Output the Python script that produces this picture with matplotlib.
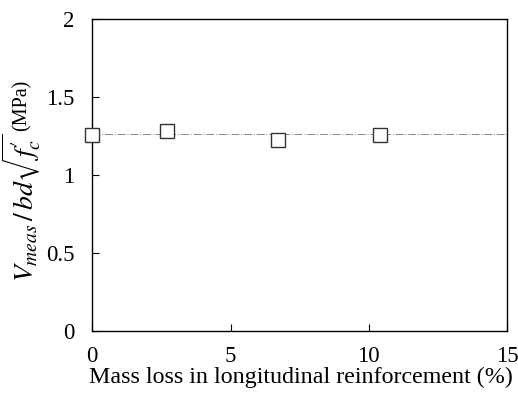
import matplotlib
matplotlib.use("Agg")
import matplotlib.pyplot as plt

# mass loss (%) and normalised shear strength
mass_loss = [0.0, 2.7, 6.7, 10.4]
v_norm = [1.258, 1.282, 1.222, 1.254]
mean_line = 1.26

x_ticks = [0, 5, 10, 15]
y_ticks = [0, 0.5, 1, 1.5, 2]
y_ticklabels = ["0", "0.5", "1", "1.5", "2"]

plt.rcParams['font.family'] = ['Liberation Serif', 'DejaVu Serif']
plt.rcParams['mathtext.fontset'] = 'stix'

fig, ax = plt.subplots(figsize=(5.18, 4.0), dpi=100)
fig.subplots_adjust(left=0.178, right=0.979, top=0.953, bottom=0.173)

ax.axhline(mean_line, color='#888888', lw=0.7, ls=(0, (8, 2, 1, 2)), zorder=1)
ax.plot(mass_loss, v_norm, ls='none', marker='s', ms=10, mfc='white',
        mec='#333333', mew=1.0, zorder=3, clip_on=False)

ax.set_xlim(0, 15)
ax.set_ylim(0, 2)
ax.set_xticks(x_ticks)
ax.set_yticks(y_ticks)
ax.set_yticklabels(y_ticklabels)
ax.tick_params(direction='in', length=5, width=0.8, labelsize=16.5)
ax.tick_params(axis='x', pad=11)
ax.tick_params(axis='y', pad=13)
for s in ax.spines.values():
    s.set_linewidth(1.0)

ax.set_xlabel("Mass loss in longitudinal reinforcement (%)", fontsize=17.3, va='center')
ax.xaxis.set_label_coords(0.502, -0.15)

# y label: math part and unit as two pieces
fig.text(0.043, 0.481, r"$V_{meas}\,/\,bd\sqrt{f^{\prime}_{c}}$", rotation=90,
         ha='center', va='center', fontsize=20)
fig.text(0.043, 0.7375, "(MPa)", rotation=90, ha='center', va='center', fontsize=14.5)

fig.savefig("out.png", dpi=100)
